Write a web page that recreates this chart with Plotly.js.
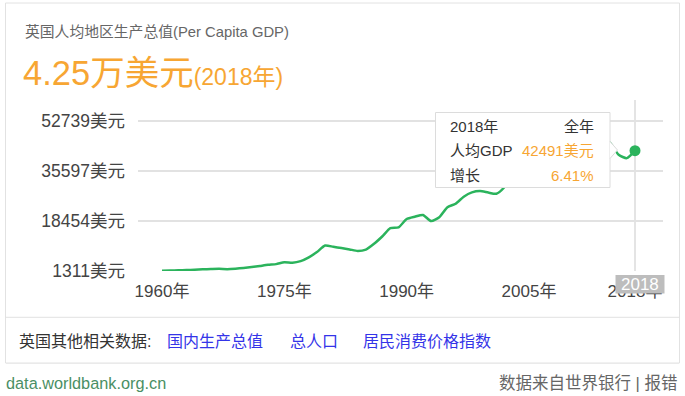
<!DOCTYPE html>
<html>
<head>
<meta charset="utf-8">
<script src="https://cdn.plot.ly/plotly-3.0.1.min.js"></script>
<style>
html,body{margin:0;padding:0;background:#fff;}
#chart{width:685px;height:396px;}
</style>
</head>
<body>
<div id="chart"></div>
<script>
// ---- data ----
var years = [1960,1961,1962,1963,1964,1965,1966,1967,1968,1969,
             1970,1971,1972,1973,1974,1975,1976,1977,1978,1979,
             1980,1981,1982,1983,1984,1985,1986,1987,1988,1989,
             1990,1991,1992,1993,1994,1995,1996,1997,1998,1999,
             2000,2001,2002,2003,2004,2005,2006,2007,2008,2009,
             2010,2011,2012,2013,2014,2015,2016,2017,2018];
var gdpPerCapita = [1380,1472,1525,1613,1748,1874,1980,2058,1951,2100,
                    2348,2649,3030,3426,3666,4300,4138,4681,5977,7805,
                    10032,9599,9146,8691,8179,8652,10611,13119,15987,16239,
                    19095,19900,20487,18389,19709,23123,24333,26734,28214,28669,
                    28150,27744,30057,34419,40290,41732,44252,50566,47287,38713,
                    39436,42038,42463,43444,47440,44966,41064,39932,42491];
var yTickVals = [1311,18454,35597,52739];
var yTickText = ['1311美元','18454美元','35597美元','52739美元'];
var xTickVals = [1960,1975,1990,2005,2018];
var xTickText = ['1960年','1975年','1990年','2005年','2018年'];
var selYear = '2018';
var selValue = '42491美元';
var selGrowth = '6.41%';

// ---- layout helpers (pixel -> paper) ----
var L = 138, R = 663, T = 100, B = 271;
function px(x){ return (x - L) / (R - L); }
function py(y){ return (B - y) / (B - T); }

var FONT = 'Arial, "Liberation Sans", "Noto Sans CJK SC", sans-serif';
var GREEN = '#2bb35c';
var ORANGE = '#f7a633';
var LINK = '#3434e8';

var lastIdx = years.length - 1;

var traces = [
  {
    x: years, y: gdpPerCapita, type: 'scatter', mode: 'lines',
    line: {color: GREEN, width: 2.5, shape: 'spline', smoothing: 0.6},
    hoverinfo: 'skip'
  },
  {
    x: [years[lastIdx]], y: [gdpPerCapita[lastIdx]], type: 'scatter', mode: 'markers',
    marker: {color: GREEN, size: 11},
    hoverinfo: 'skip'
  }
];

function ann(x, y, text, size, color, anchor){
  return {xref:'paper', yref:'paper', x: px(x), y: py(y), text: text, showarrow:false,
          xanchor: anchor || 'left', yanchor:'middle',
          font:{family:FONT, size:size, color:color}};
}

var annotations = [
  ann(23, 31, '英国人均地区生产总值(Per Capita GDP)', 14.8, '#666'),
  ann(21, 73, '4.25万美元<span style="font-size:23px">(2018年)</span>', 34.5, ORANGE),
  // tooltip texts
  ann(448, 126.5, selYear + '年', 15, '#333'),
  ann(596, 126.5, '全年', 15, '#333', 'right'),
  ann(448, 150.7, '人均GDP', 15, '#333'),
  ann(596, 150.7, selValue, 15, ORANGE, 'right'),
  ann(448, 175, '增长', 15, '#333'),
  ann(596, 175, selGrowth, 15, ORANGE, 'right'),
  // selected year badge
  ann(640, 284, selYear, 17, '#fff', 'center'),
  // related data row
  ann(17, 341, '英国其他相关数据:', 16, '#333'),
  ann(165, 341, '国内生产总值', 16, LINK),
  ann(288, 341, '总人口', 16, LINK),
  ann(361, 341, '居民消费价格指数', 16, LINK),
  // footer
  ann(4, 383, 'data.worldbank.org.cn', 16.3, '#4a8f64'),
  ann(679, 383, '数据来自世界银行 | 报错', 16.5, '#666', 'right')
];

var shapes = [
  // card
  {type:'rect', xref:'paper', yref:'paper', x0:px(5.5), x1:px(679.5), y0:py(3), y1:py(363),
   line:{color:'#e2e2e2', width:1}, fillcolor:'rgba(0,0,0,0)', layer:'below'},
  {type:'line', xref:'paper', yref:'paper', x0:px(6), x1:px(679), y0:py(363.5), y1:py(363.5),
   line:{color:'#eaeaea', width:1}, layer:'below'},
  {type:'line', xref:'paper', yref:'paper', x0:px(5.5), x1:px(679.5), y0:py(317.3), y1:py(317.3),
   line:{color:'#e2e2e2', width:1}, layer:'below'},
  // hover vertical line
  {type:'line', xref:'x', yref:'paper', x0:2018, x1:2018, y0:py(100), y1:py(271),
   line:{color:'#e4e4e4', width:2}, layer:'below'},
  // tooltip box
  {type:'rect', xref:'paper', yref:'paper', x0:px(435.5), x1:px(610), y0:py(112.5), y1:py(187.5),
   line:{color:'#dcdcdc', width:1}, fillcolor:'#fff', layer:'above'},
  {type:'path', xref:'paper', yref:'paper',
   path:'M'+px(610)+','+py(141.5)+' L'+px(617.5)+','+py(150)+' L'+px(610)+','+py(158.5)+' Z',
   line:{color:'rgba(0,0,0,0)', width:0}, fillcolor:'#fff', layer:'above'},
  {type:'path', xref:'paper', yref:'paper',
   path:'M'+px(610)+','+py(141.5)+' L'+px(617.5)+','+py(150)+' L'+px(610)+','+py(158.5),
   line:{color:'#dcdcdc', width:1}, layer:'above'},
  // badge
  {type:'rect', xref:'paper', yref:'paper', x0:px(615.5), x1:px(664.5), y0:py(275), y1:py(293.5),
   line:{width:0}, fillcolor:'#bdbdbd', layer:'above'}
];

var layout = {
  width: 685, height: 396,
  margin: {l: L, r: 685 - R, t: T, b: 396 - B, pad: 0},
  paper_bgcolor: '#fff', plot_bgcolor: '#fff',
  showlegend: false,
  font: {family: FONT, color: '#333'},
  xaxis: {
    range: [1957.057, 2021.433], tickvals: xTickVals, ticktext: xTickText,
    showgrid: false, zeroline: false, showline: false, ticks: '',
    ticklabelstandoff: 8,
    tickfont: {family: FONT, size: 17, color: '#444'}, fixedrange: true
  },
  yaxis: {
    range: [1311, 1311 + 171 * 342.17], tickvals: yTickVals, ticktext: yTickText,
    showgrid: true, gridcolor: '#e2e2e2', gridwidth: 2, zeroline: false, showline: false,
    ticks: '', ticklabelstandoff: 12,
    tickfont: {family: FONT, size: 17.5, color: '#444'}, fixedrange: true
  },
  shapes: shapes,
  annotations: annotations,
  hovermode: false
};

Plotly.newPlot('chart', traces, layout, {displayModeBar: false, staticPlot: true});
</script>
</body>
</html>
